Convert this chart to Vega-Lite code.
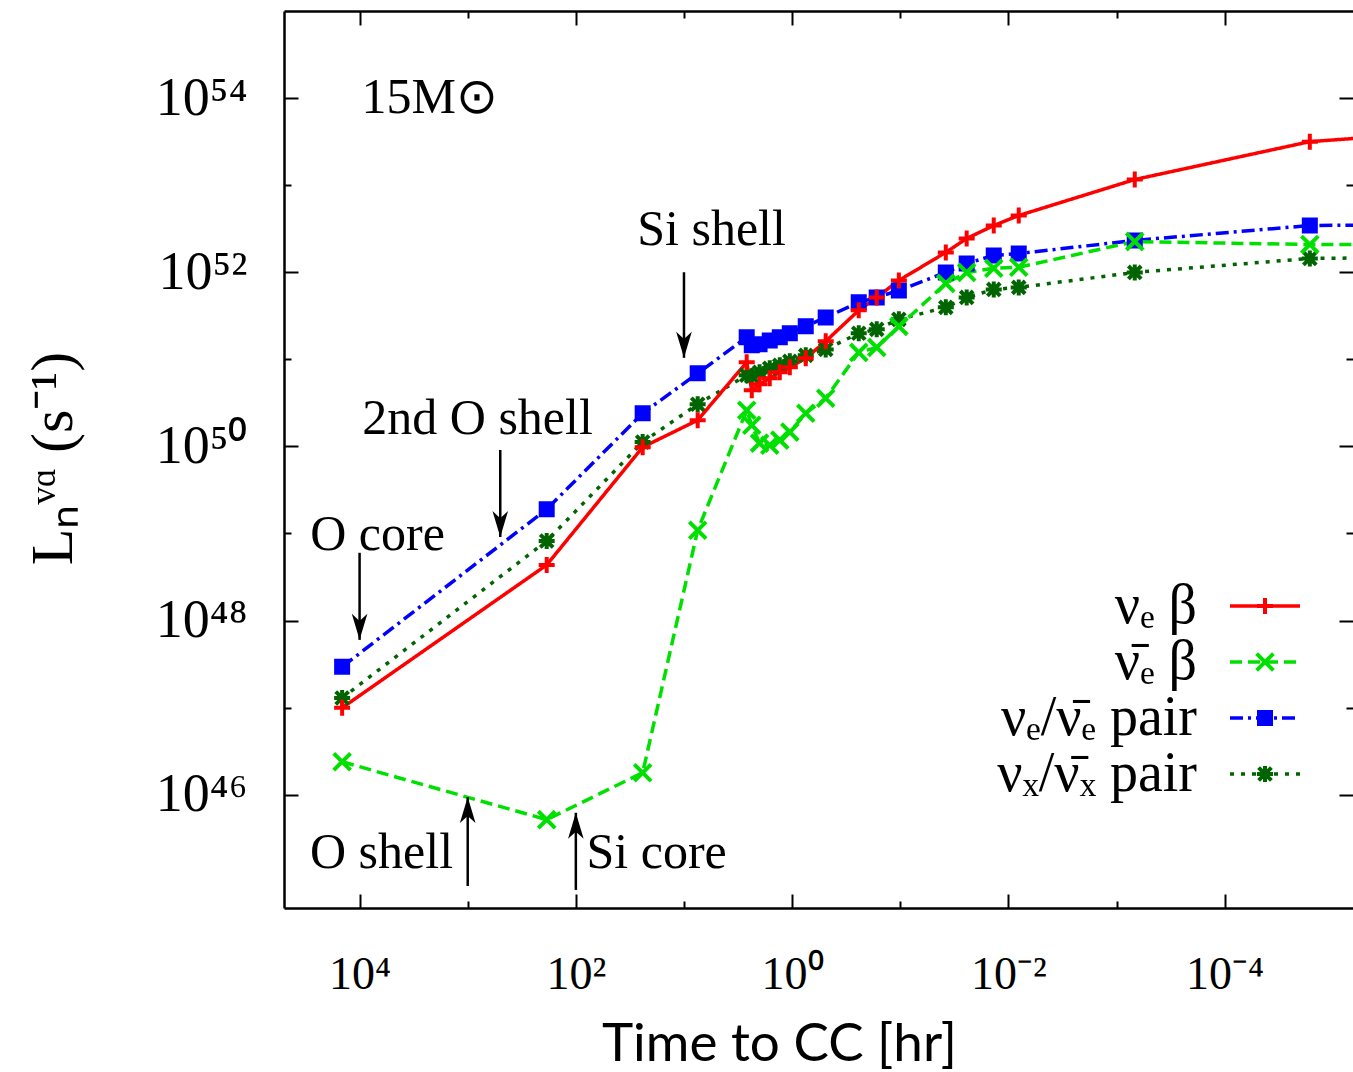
{
  "$schema": "https://vega.github.io/schema/vega-lite/v6.json",
  "width": 1069,
  "height": 897,
  "autosize": {"type": "none"},
  "padding": {"left": 284, "top": 11, "right": 0, "bottom": 164},
  "background": "white",
  "config": {"view": {"stroke": null}, "axis": {"grid": false}},
  "datasets": {
    "lum": [
      {"s": "\u03bd\u2093/\u03bd\u0304\u2093 pair", "t": 14500, "L": 1.29e47},
      {"s": "\u03bd\u2093/\u03bd\u0304\u2093 pair", "t": 186, "L": 8.2e48},
      {"s": "\u03bd\u2093/\u03bd\u0304\u2093 pair", "t": 24.1, "L": 1.12e50},
      {"s": "\u03bd\u2093/\u03bd\u0304\u2093 pair", "t": 7.47, "L": 3.05e50},
      {"s": "\u03bd\u2093/\u03bd\u0304\u2093 pair", "t": 2.63, "L": 6.56e50},
      {"s": "\u03bd\u2093/\u03bd\u0304\u2093 pair", "t": 2.36, "L": 6.39e50},
      {"s": "\u03bd\u2093/\u03bd\u0304\u2093 pair", "t": 2.0, "L": 7.1e50},
      {"s": "\u03bd\u2093/\u03bd\u0304\u2093 pair", "t": 1.61, "L": 7.89e50},
      {"s": "\u03bd\u2093/\u03bd\u0304\u2093 pair", "t": 1.3, "L": 8.54e50},
      {"s": "\u03bd\u2093/\u03bd\u0304\u2093 pair", "t": 1.05, "L": 9.49e50},
      {"s": "\u03bd\u2093/\u03bd\u0304\u2093 pair", "t": 0.748, "L": 1.11e51},
      {"s": "\u03bd\u2093/\u03bd\u0304\u2093 pair", "t": 0.489, "L": 1.3e51},
      {"s": "\u03bd\u2093/\u03bd\u0304\u2093 pair", "t": 0.242, "L": 1.99e51},
      {"s": "\u03bd\u2093/\u03bd\u0304\u2093 pair", "t": 0.165, "L": 2.21e51},
      {"s": "\u03bd\u2093/\u03bd\u0304\u2093 pair", "t": 0.103, "L": 2.88e51},
      {"s": "\u03bd\u2093/\u03bd\u0304\u2093 pair", "t": 0.0379, "L": 3.95e51},
      {"s": "\u03bd\u2093/\u03bd\u0304\u2093 pair", "t": 0.0243, "L": 5.14e51},
      {"s": "\u03bd\u2093/\u03bd\u0304\u2093 pair", "t": 0.01365, "L": 6.35e51},
      {"s": "\u03bd\u2093/\u03bd\u0304\u2093 pair", "t": 0.00802, "L": 6.7e51},
      {"s": "\u03bd\u2093/\u03bd\u0304\u2093 pair", "t": 0.000678, "L": 9.95e51},
      {"s": "\u03bd\u2093/\u03bd\u0304\u2093 pair", "t": 1.63e-5, "L": 1.44e52},
      {"s": "\u03bd\u2093/\u03bd\u0304\u2093 pair", "t": 1.56e-6, "L": 1.48e52},

      {"s": "\u03bd\u2091/\u03bd\u0304\u2091 pair", "t": 14500, "L": 2.94e47},
      {"s": "\u03bd\u2091/\u03bd\u0304\u2091 pair", "t": 186, "L": 1.9e49},
      {"s": "\u03bd\u2091/\u03bd\u0304\u2091 pair", "t": 24.1, "L": 2.4e50},
      {"s": "\u03bd\u2091/\u03bd\u0304\u2091 pair", "t": 7.47, "L": 6.9e50},
      {"s": "\u03bd\u2091/\u03bd\u0304\u2091 pair", "t": 2.63, "L": 1.79e51},
      {"s": "\u03bd\u2091/\u03bd\u0304\u2091 pair", "t": 2.36, "L": 1.45e51},
      {"s": "\u03bd\u2091/\u03bd\u0304\u2091 pair", "t": 2.0, "L": 1.49e51},
      {"s": "\u03bd\u2091/\u03bd\u0304\u2091 pair", "t": 1.61, "L": 1.65e51},
      {"s": "\u03bd\u2091/\u03bd\u0304\u2091 pair", "t": 1.3, "L": 1.79e51},
      {"s": "\u03bd\u2091/\u03bd\u0304\u2091 pair", "t": 1.05, "L": 1.99e51},
      {"s": "\u03bd\u2091/\u03bd\u0304\u2091 pair", "t": 0.748, "L": 2.39e51},
      {"s": "\u03bd\u2091/\u03bd\u0304\u2091 pair", "t": 0.489, "L": 3.03e51},
      {"s": "\u03bd\u2091/\u03bd\u0304\u2091 pair", "t": 0.242, "L": 4.51e51},
      {"s": "\u03bd\u2091/\u03bd\u0304\u2091 pair", "t": 0.165, "L": 5.14e51},
      {"s": "\u03bd\u2091/\u03bd\u0304\u2091 pair", "t": 0.103, "L": 6.18e51},
      {"s": "\u03bd\u2091/\u03bd\u0304\u2091 pair", "t": 0.0379, "L": 9.95e51},
      {"s": "\u03bd\u2091/\u03bd\u0304\u2091 pair", "t": 0.0243, "L": 1.26e52},
      {"s": "\u03bd\u2091/\u03bd\u0304\u2091 pair", "t": 0.01365, "L": 1.56e52},
      {"s": "\u03bd\u2091/\u03bd\u0304\u2091 pair", "t": 0.00802, "L": 1.64e52},
      {"s": "\u03bd\u2091/\u03bd\u0304\u2091 pair", "t": 0.000678, "L": 2.32e52},
      {"s": "\u03bd\u2091/\u03bd\u0304\u2091 pair", "t": 1.63e-5, "L": 3.44e52},
      {"s": "\u03bd\u2091/\u03bd\u0304\u2091 pair", "t": 1.56e-6, "L": 3.53e52},

      {"s": "\u03bd\u0304\u2091 \u03b2", "t": 14500, "L": 2.39e46},
      {"s": "\u03bd\u0304\u2091 \u03b2", "t": 186, "L": 5.17e45},
      {"s": "\u03bd\u0304\u2091 \u03b2", "t": 24.1, "L": 1.79e46},
      {"s": "\u03bd\u0304\u2091 \u03b2", "t": 7.47, "L": 1.09e49},
      {"s": "\u03bd\u0304\u2091 \u03b2", "t": 2.63, "L": 2.6e50},
      {"s": "\u03bd\u0304\u2091 \u03b2", "t": 2.36, "L": 1.75e50},
      {"s": "\u03bd\u0304\u2091 \u03b2", "t": 2.0, "L": 1.09e50},
      {"s": "\u03bd\u0304\u2091 \u03b2", "t": 1.61, "L": 1.03e50},
      {"s": "\u03bd\u0304\u2091 \u03b2", "t": 1.3, "L": 1.18e50},
      {"s": "\u03bd\u0304\u2091 \u03b2", "t": 1.05, "L": 1.46e50},
      {"s": "\u03bd\u0304\u2091 \u03b2", "t": 0.748, "L": 2.4e50},
      {"s": "\u03bd\u0304\u2091 \u03b2", "t": 0.489, "L": 3.57e50},
      {"s": "\u03bd\u0304\u2091 \u03b2", "t": 0.242, "L": 1.2e51},
      {"s": "\u03bd\u0304\u2091 \u03b2", "t": 0.165, "L": 1.37e51},
      {"s": "\u03bd\u0304\u2091 \u03b2", "t": 0.103, "L": 2.39e51},
      {"s": "\u03bd\u0304\u2091 \u03b2", "t": 0.0379, "L": 7.44e51},
      {"s": "\u03bd\u0304\u2091 \u03b2", "t": 0.0243, "L": 9.95e51},
      {"s": "\u03bd\u0304\u2091 \u03b2", "t": 0.01365, "L": 1.11e52},
      {"s": "\u03bd\u0304\u2091 \u03b2", "t": 0.00802, "L": 1.14e52},
      {"s": "\u03bd\u0304\u2091 \u03b2", "t": 0.000678, "L": 2.25e52},
      {"s": "\u03bd\u0304\u2091 \u03b2", "t": 1.63e-5, "L": 2.08e52},
      {"s": "\u03bd\u0304\u2091 \u03b2", "t": 1.56e-6, "L": 2.08e52},

      {"s": "\u03bd\u2091 \u03b2", "t": 14500, "L": 9.95e46},
      {"s": "\u03bd\u2091 \u03b2", "t": 186, "L": 4.35e48},
      {"s": "\u03bd\u2091 \u03b2", "t": 24.1, "L": 9.8e49},
      {"s": "\u03bd\u2091 \u03b2", "t": 7.47, "L": 2.0e50},
      {"s": "\u03bd\u2091 \u03b2", "t": 2.63, "L": 9.25e50},
      {"s": "\u03bd\u2091 \u03b2", "t": 2.36, "L": 4.4e50},
      {"s": "\u03bd\u2091 \u03b2", "t": 2.0, "L": 5.16e50},
      {"s": "\u03bd\u2091 \u03b2", "t": 1.61, "L": 6.05e50},
      {"s": "\u03bd\u2091 \u03b2", "t": 1.3, "L": 7.1e50},
      {"s": "\u03bd\u2091 \u03b2", "t": 1.05, "L": 8.1e50},
      {"s": "\u03bd\u2091 \u03b2", "t": 0.748, "L": 1.03e51},
      {"s": "\u03bd\u2091 \u03b2", "t": 0.489, "L": 1.61e51},
      {"s": "\u03bd\u2091 \u03b2", "t": 0.242, "L": 3.65e51},
      {"s": "\u03bd\u2091 \u03b2", "t": 0.165, "L": 5.14e51},
      {"s": "\u03bd\u2091 \u03b2", "t": 0.103, "L": 8.05e51},
      {"s": "\u03bd\u2091 \u03b2", "t": 0.0379, "L": 1.69e52},
      {"s": "\u03bd\u2091 \u03b2", "t": 0.0243, "L": 2.44e52},
      {"s": "\u03bd\u2091 \u03b2", "t": 0.01365, "L": 3.44e52},
      {"s": "\u03bd\u2091 \u03b2", "t": 0.00802, "L": 4.48e52},
      {"s": "\u03bd\u2091 \u03b2", "t": 0.000678, "L": 1.16e53},
      {"s": "\u03bd\u2091 \u03b2", "t": 1.63e-5, "L": 3.16e53},
      {"s": "\u03bd\u2091 \u03b2", "t": 1.56e-6, "L": 3.9e53}
    ],
    "notes": [
      {"t": 2250, "L": 1e54, "label": "15M\u2299"},
      {"t": 5.56, "L": 3.05e52, "label": "Si shell"},
      {"t": 811, "L": 2.06e50, "label": "2nd O shell"},
      {"t": 6820, "L": 9.6e48, "label": "O core"},
      {"t": 6270, "L": 2.14e45, "label": "O shell"},
      {"t": 17.9, "L": 2.14e45, "label": "Si core"}
    ],
    "arrows": [
      {"t": 10, "from": 1e52, "to": 1.04e51},
      {"t": 500, "from": 9.1e49, "to": 9.1e48},
      {"t": 10000, "from": 6.0e48, "to": 6.0e47},
      {"t": 1000, "from": 8.95e44, "to": 9.4e45},
      {"t": 100, "from": 8.06e44, "to": 6.2e45}
    ]
  },
  "layer": [
    {
      "data": {"name": "lum"},
      "mark": {"type": "line", "strokeWidth": 3.5, "clip": true},
      "encoding": {
        "x": {
          "field": "t", "type": "quantitative",
          "scale": {"type": "log", "domain": [6.5e-6, 50000], "reverse": true, "nice": false},
          "axis": {
            "orient": "bottom",
            "values": [10000, 1000, 100, 10, 1, 0.1, 0.01, 0.001, 0.0001],
            "labelExpr": "datum.value == 10000 ? '10\u2074' : datum.value == 100 ? '10\u00b2' : datum.value == 1 ? '10\u2070' : datum.value == 0.01 ? '10\u207b\u00b2' : datum.value == 0.0001 ? '10\u207b\u2074' : ''",
            "labelFont": "Liberation Serif", "labelFontSize": 46, "labelColor": "black",
            "labelBaseline": "alphabetic", "labelPadding": 94,
            "labelOverlap": false, "labelFlush": false, "labelBound": false,
            "tickSize": {"condition": {"test": "round(log(datum.value)/LN10) % 2 == 0", "value": -14}, "value": -7},
            "tickWidth": 2, "tickColor": "black",
            "domainColor": "black", "domainWidth": 2.5,
            "title": "Time to CC [hr]",
            "titleFont": "Lato", "titleFontSize": 53, "titleFontWeight": "normal", "titleColor": "black",
            "titleX": 495, "titleY": 152, "titleAlign": "center", "titleBaseline": "alphabetic", "titleAngle": 0
          }
        },
        "y": {
          "field": "L", "type": "quantitative",
          "scale": {"type": "log", "domain": [5e44, 1e55], "nice": false},
          "axis": {
            "orient": "left",
            "values": [1e46, 1e47, 1e48, 1e49, 1e50, 1e51, 1e52, 1e53, 1e54],
            "labelExpr": "datum.value == 1e46 ? '10\u2074\u2076' : datum.value == 1e48 ? '10\u2074\u2078' : datum.value == 1e50 ? '10\u2075\u2070' : datum.value == 1e52 ? '10\u2075\u00b2' : datum.value == 1e54 ? '10\u2075\u2074' : ''",
            "labelFont": "Liberation Serif", "labelFontSize": 54, "labelColor": "black",
            "labelAlign": "right", "labelBaseline": "middle", "labelPadding": 51,
            "labelOverlap": false, "labelFlush": false, "labelBound": false,
            "tickSize": {"condition": {"test": "round(log(datum.value)/LN10) % 2 == 0", "value": -14}, "value": -7},
            "tickWidth": 2, "tickColor": "black",
            "domainColor": "black", "domainWidth": 2.5,
            "title": "L\u2099\u1d5b\u1d45 (s\u207b\u00b9)",
            "titleFont": "Liberation Serif", "titleFontSize": 60, "titleFontWeight": "normal", "titleColor": "black",
            "titleX": -231, "titleY": 447, "titleAlign": "center", "titleBaseline": "middle", "titleAngle": 270
          }
        },
        "color": {
          "field": "s", "type": "nominal",
          "scale": {
            "domain": ["\u03bd\u2091 \u03b2", "\u03bd\u0304\u2091 \u03b2", "\u03bd\u2091/\u03bd\u0304\u2091 pair", "\u03bd\u2093/\u03bd\u0304\u2093 pair"],
            "range": ["#ff0000", "#00e000", "#0000ff", "#006400"]
          },
          "legend": {
            "orient": "none", "legendX": 953, "legendY": 567, "title": null,
            "symbolType": "M-2,0H2", "symbolSize": 1225, "symbolStrokeWidth": 3.5,
            "labelFont": "Liberation Serif", "labelFontSize": 56, "labelColor": "black",
            "labelAlign": "right", "labelBaseline": "middle", "labelOffset": -96, "labelLimit": 0,
            "rowPadding": 0, "padding": 0
          }
        },
        "strokeDash": {
          "field": "s", "type": "nominal",
          "scale": {
            "domain": ["\u03bd\u2091 \u03b2", "\u03bd\u0304\u2091 \u03b2", "\u03bd\u2091/\u03bd\u0304\u2091 pair", "\u03bd\u2093/\u03bd\u0304\u2093 pair"],
            "range": [[1, 0], [12, 6], [13, 5, 3, 5], [4, 7]]
          }
        }
      }
    },
    {
      "data": {"name": "lum"},
      "mark": {"type": "point", "filled": false, "size": 256, "strokeWidth": 4, "opacity": 1, "clip": true},
      "encoding": {
        "x": {
          "field": "t", "type": "quantitative",
          "scale": {"type": "log", "domain": [6.5e-6, 50000], "reverse": true, "nice": false},
          "axis": {
            "orient": "top",
            "values": [10000, 1000, 100, 10, 1, 0.1, 0.01, 0.001, 0.0001],
            "labels": false,
            "tickSize": {"condition": {"test": "round(log(datum.value)/LN10) % 2 == 0", "value": -14}, "value": -7},
            "tickWidth": 2, "tickColor": "black",
            "domainColor": "black", "domainWidth": 2.5,
            "title": null
          }
        },
        "y": {
          "field": "L", "type": "quantitative",
          "scale": {"type": "log", "domain": [5e44, 1e55], "nice": false},
          "axis": {
            "orient": "right",
            "values": [1e46, 1e47, 1e48, 1e49, 1e50, 1e51, 1e52, 1e53, 1e54],
            "labels": false, "domain": false,
            "tickSize": {"condition": {"test": "round(log(datum.value)/LN10) % 2 == 0", "value": -14}, "value": -7},
            "tickWidth": 2, "tickColor": "black",
            "title": null
          }
        },
        "color": {
          "field": "s", "type": "nominal",
          "scale": {
            "domain": ["\u03bd\u2091 \u03b2", "\u03bd\u0304\u2091 \u03b2", "\u03bd\u2091/\u03bd\u0304\u2091 pair", "\u03bd\u2093/\u03bd\u0304\u2093 pair"],
            "range": ["#ff0000", "#00e000", "#0000ff", "#006400"]
          },
          "legend": {
            "orient": "none", "legendX": 953, "legendY": 567, "title": null,
            "symbolSize": 256, "symbolStrokeWidth": 4,
            "labelExpr": "''",
            "labelFont": "Liberation Serif", "labelFontSize": 56,
            "labelAlign": "right", "labelBaseline": "middle", "labelOffset": -96, "labelLimit": 0,
            "rowPadding": 0, "padding": 0
          }
        },
        "shape": {
          "field": "s", "type": "nominal",
          "scale": {
            "domain": ["\u03bd\u2091 \u03b2", "\u03bd\u0304\u2091 \u03b2", "\u03bd\u2091/\u03bd\u0304\u2091 pair", "\u03bd\u2093/\u03bd\u0304\u2093 pair"],
            "range": [
              "M-1,0H1M0,-1V1",
              "M-1.05,-1.05L1.05,1.05M-1.05,1.05L1.05,-1.05",
              "M-1,-0.75H1M1,-0.25H-1M-1,0.25H1M1,0.75H-1",
              "M-1,0H1M0,-1V1M-0.8,-0.8L0.8,0.8M-0.8,0.8L0.8,-0.8"
            ]
          }
        }
      }
    },
    {
      "data": {"name": "arrows"},
      "mark": {"type": "rule", "color": "black", "strokeWidth": 2.5},
      "encoding": {
        "x": {"field": "t", "type": "quantitative", "scale": {"type": "log", "domain": [6.5e-6, 50000], "reverse": true, "nice": false}, "axis": null},
        "y": {"field": "from", "type": "quantitative", "scale": {"type": "log", "domain": [5e44, 1e55], "nice": false}, "axis": null},
        "y2": {"field": "to"}
      }
    },
    {
      "data": {"name": "arrows"},
      "transform": [{"filter": "datum.to < datum.from"}],
      "mark": {"type": "point", "filled": true, "color": "black", "opacity": 1, "strokeWidth": 0, "size": 676, "shape": "M0,0L-0.6,-2L0,-1.45L0.6,-2Z"},
      "encoding": {
        "x": {"field": "t", "type": "quantitative", "scale": {"type": "log", "domain": [6.5e-6, 50000], "reverse": true, "nice": false}, "axis": null},
        "y": {"field": "to", "type": "quantitative", "scale": {"type": "log", "domain": [5e44, 1e55], "nice": false}, "axis": null}
      }
    },
    {
      "data": {"name": "arrows"},
      "transform": [{"filter": "datum.to > datum.from"}],
      "mark": {"type": "point", "filled": true, "color": "black", "opacity": 1, "strokeWidth": 0, "size": 676, "shape": "M0,0L-0.6,2L0,1.45L0.6,2Z"},
      "encoding": {
        "x": {"field": "t", "type": "quantitative", "scale": {"type": "log", "domain": [6.5e-6, 50000], "reverse": true, "nice": false}, "axis": null},
        "y": {"field": "to", "type": "quantitative", "scale": {"type": "log", "domain": [5e44, 1e55], "nice": false}, "axis": null}
      }
    },
    {
      "data": {"name": "notes"},
      "mark": {"type": "text", "font": "Liberation Serif", "fontSize": 50, "color": "black", "align": "center", "baseline": "middle"},
      "encoding": {
        "x": {"field": "t", "type": "quantitative", "scale": {"type": "log", "domain": [6.5e-6, 50000], "reverse": true, "nice": false}, "axis": null},
        "y": {"field": "L", "type": "quantitative", "scale": {"type": "log", "domain": [5e44, 1e55], "nice": false}, "axis": null},
        "text": {"field": "label"}
      }
    }
  ],
  "resolve": {
    "scale": {"color": "independent", "strokeDash": "independent", "shape": "independent"},
    "axis": {"x": "independent", "y": "independent"}
  }
}
